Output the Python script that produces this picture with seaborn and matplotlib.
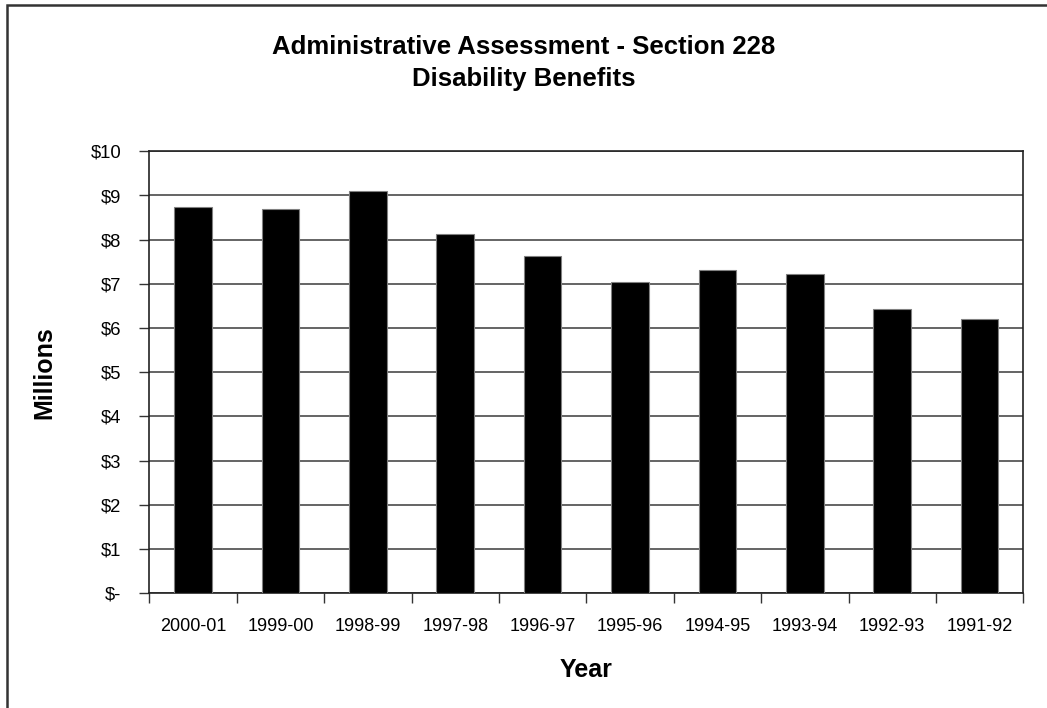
import numpy as np
import pandas as pd
import matplotlib
matplotlib.use('Agg')
import matplotlib.pyplot as plt
import seaborn as sns
from matplotlib.patches import Rectangle

# 数据：各年度金额（百万美元）
years = ['2000-01', '1999-00', '1998-99', '1997-98', '1996-97',
         '1995-96', '1994-95', '1993-94', '1992-93', '1991-92']
millions = [8.75, 8.69, 9.11, 8.12, 7.63, 7.04, 7.31, 7.23, 6.43, 6.20]
ytick_vals = list(range(0, 11))
ytick_labels = ['$-'] + ['$%d' % v for v in range(1, 11)]

sns.set_style('white')
plt.rcParams['font.family'] = ['Liberation Sans', 'DejaVu Sans']
plt.rcParams['text.color'] = 'black'
plt.rcParams['axes.labelcolor'] = 'black'
plt.rcParams['xtick.color'] = 'black'
plt.rcParams['ytick.color'] = 'black'

df = pd.DataFrame({'Year': years, 'Millions': millions})

fig = plt.figure(figsize=(10.47, 7.08), dpi=100)
ax = fig.add_axes([149.3 / 1047, 1 - 593.3 / 708,
                   (1023.3 - 149.3) / 1047, (593.3 - 151.3) / 708])

sns.barplot(data=df, x='Year', y='Millions', order=years, color='black',
            width=0.43, edgecolor='#808080', linewidth=0.8, saturation=1,
            ax=ax, zorder=3)

ax.set_ylim(0, 10)
ax.set_xlim(-0.5, len(years) - 0.5)
ax.set_yticks(ytick_vals)
ax.set_yticklabels(ytick_labels, fontsize=13.3)
ax.yaxis.grid(True, color='#3a3a3a', linewidth=1.1, zorder=0)
ax.set_axisbelow(True)

# 刻度线在类别边界，标签在中间
ax.set_xticks(np.arange(len(years)))
ax.set_xticklabels(years, fontsize=13)
ax.set_xticks(np.arange(len(years) + 1) - 0.5, minor=True)
ax.tick_params(axis='x', which='major', length=0, pad=18)
ax.tick_params(axis='x', which='minor', length=7, width=1, color='#333333',
               direction='out', bottom=True)
ax.tick_params(axis='y', length=7, width=1, color='#333333', direction='out',
               left=True, pad=13)

for side in ['left', 'right', 'top', 'bottom']:
    ax.spines[side].set_visible(True)
    ax.spines[side].set_color('#222222')
    ax.spines[side].set_linewidth(1.2)

ax.set_xlabel('Year', fontsize=18, fontweight='bold', labelpad=16)
ax.set_ylabel('Millions', fontsize=18, fontweight='bold', labelpad=25)

fig.text(0.5, 1 - 47 / 708, 'Administrative Assessment - Section 228',
         ha='center', va='center', fontsize=18.5, fontweight='bold')
fig.text(0.5, 1 - 79 / 708, 'Disability Benefits',
         ha='center', va='center', fontsize=18.5, fontweight='bold')

# 外框（只露出左边和上边）
fig.patches.append(Rectangle((7 / 1047, -0.1), 1.2, 1 - 5 / 708 + 0.1,
                             transform=fig.transFigure, fill=False,
                             edgecolor='#333333', linewidth=1.8))

fig.savefig('out.png', dpi=100)
